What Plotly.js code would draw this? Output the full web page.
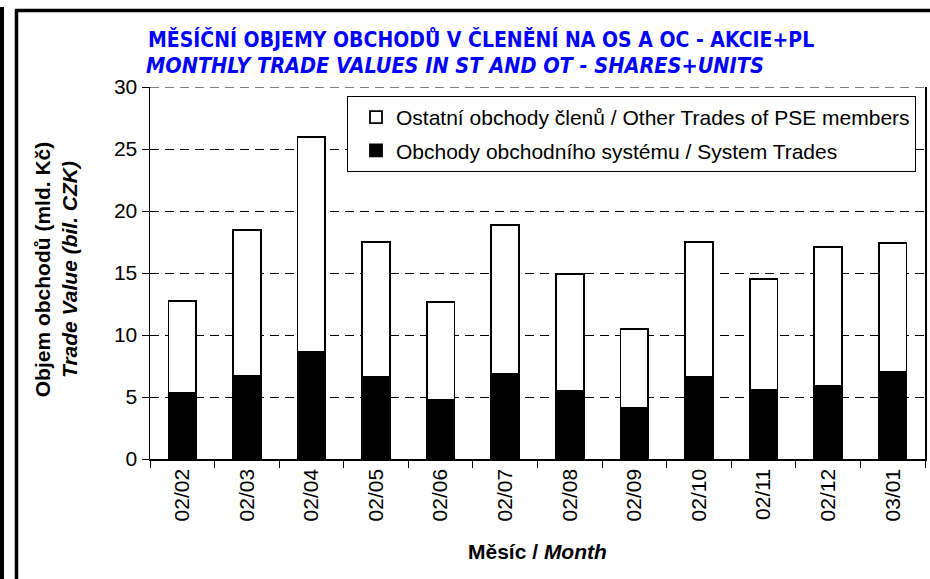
<!DOCTYPE html>
<html>
<head>
<meta charset="utf-8">
<script src="https://cdn.plot.ly/plotly-3.0.1.min.js"></script>
<style>html,body{margin:0;padding:0;background:#fff;}#chart{width:930px;height:579px;}</style>
</head>
<body>
<div id="chart"></div>
<script>
const months = ["02/02","02/03","02/04","02/05","02/06","02/07","02/08","02/09","02/10","02/11","02/12","03/01"];
const systemTrades = [5.35, 6.7, 8.6, 6.6, 4.8, 6.85, 5.5, 4.15, 6.65, 5.55, 5.9, 7.05];
const totalTrades = [12.75, 18.5, 26.0, 17.5, 12.65, 18.9, 14.9, 10.5, 17.5, 14.5, 17.1, 17.4];
const otherTrades = totalTrades.map((t, i) => +(t - systemTrades[i]).toFixed(2));
const seriesNames = ["Obchody obchodního systému / System Trades", "Ostatní obchody členů / Other Trades of PSE members"];

const W = 930, H = 579, L = 150, R = 5, T = 87, B = 120;
const pw = W - L - R, ph = H - T - B;
const px = x => (x - L) / pw;
const py = y => (H - B - y) / ph;
const FONT = "Liberation Sans, Arial, sans-serif";
const TFONT = "DejaVu Sans Condensed, Liberation Sans Narrow, sans-serif";

const traces = [
  {type: "bar", name: seriesNames[0], x: months, y: systemTrades, legendrank: 2,
   marker: {color: "#000", line: {color: "#000", width: 1.8}}, legendgroup: "a"},
  {type: "bar", name: seriesNames[1], x: months, y: otherTrades, legendrank: 1,
   marker: {color: "#fff", line: {color: "#000", width: 1.8}}, legendgroup: "b"}
];

const boundaries = months.map((_, i) => i - 0.5).concat([months.length - 0.5]);

const layout = {
  width: W, height: H,
  margin: {l: L, r: R, t: T, b: B, pad: 0},
  paper_bgcolor: "#fff", plot_bgcolor: "#fff",
  barmode: "stack", bargap: 0.57,
  font: {family: FONT, size: 21, color: "#000"},
  showlegend: true,
  legend: {x: px(347), y: py(96), xanchor: "left", yanchor: "top",
    bgcolor: "#fff", bordercolor: "#000", borderwidth: 1, indentation: 8,
    traceorder: "grouped", tracegroupgap: 3,
    font: {family: FONT, size: 21, color: "#000"}},
  xaxis: {type: "category", tickson: "boundaries", ticks: "outside", ticklen: 7, tickwidth: 1, tickcolor: "#000",
    showline: true, linecolor: "#000", linewidth: 1.5, tickangle: -90,
    tickfont: {family: FONT, size: 21}, showgrid: false, zeroline: false},
  xaxis2: {overlaying: "x", anchor: "y", type: "linear", range: [-0.5, months.length - 0.5],
    tickmode: "array", tickvals: boundaries, ticks: "inside", ticklen: 7, tickwidth: 1, tickcolor: "#000",
    showticklabels: false, showgrid: false, zeroline: false, showline: false},
  yaxis: {range: [0, 30], dtick: 5, ticks: "outside", ticklen: 7, tickwidth: 1, tickcolor: "#000",
    showline: true, linecolor: "#000", linewidth: 1.5, mirror: true,
    showgrid: true, gridcolor: "#000", gridwidth: 1, griddash: "9px,6px", zeroline: false,
    tickfont: {family: FONT, size: 21}},
  yaxis2: {overlaying: "y", anchor: "x", side: "left", range: [0, 30], dtick: 5, ticks: "inside", ticklen: 7,
    tickwidth: 1, tickcolor: "#000", showticklabels: false, showgrid: false, zeroline: false, showline: false},
  annotations: [
    {xref: "paper", yref: "paper", x: px(146), y: py(40), xanchor: "left", yanchor: "middle", showarrow: false,
     text: "<b>MĚSÍČNÍ OBJEMY OBCHODŮ V ČLENĚNÍ NA OS A OC - AKCIE+PL</b>",
     font: {family: TFONT, size: 21, color: "#0000ff"}},
    {xref: "paper", yref: "paper", x: px(144), y: py(65), xanchor: "left", yanchor: "middle", showarrow: false,
     text: "<b><i>MONTHLY TRADE VALUES IN ST AND OT - SHARES+UNITS</i></b>",
     font: {family: TFONT, size: 21.5, color: "#0000ff"}},
    {xref: "paper", yref: "paper", x: px(56), y: 0.51, xanchor: "center", yanchor: "middle", showarrow: false, textangle: -90,
     text: "<b>Objem obchodů (mld. Kč)<br><i>Trade Value (bil. CZK)</i></b>", font: {family: FONT, size: 21}},
    {xref: "paper", yref: "paper", x: 0.5, y: py(551), xanchor: "center", yanchor: "middle", showarrow: false,
     text: "<b>Měsíc / <i>Month</i></b>", font: {family: FONT, size: 21}}
  ],
  shapes: [
    {type: "line", xref: "paper", yref: "y", x0: 0, x1: 1, y0: 30, y1: 30,
     line: {color: "#000", width: 1, dash: "9px,6px"}, layer: "below"},
    {type: "rect", xref: "paper", yref: "paper", x0: px(0), x1: px(4), y0: py(7), y1: py(600),
     fillcolor: "#000", line: {width: 0}, layer: "above"},
    {type: "rect", xref: "paper", yref: "paper", x0: px(16.5), x1: px(960), y0: py(10.5), y1: py(620),
     fillcolor: "rgba(0,0,0,0)", line: {color: "#000", width: 3.5}, layer: "above"}
  ]
};

Plotly.newPlot("chart", traces, layout, {displayModeBar: false, staticPlot: true});
</script>
</body>
</html>
